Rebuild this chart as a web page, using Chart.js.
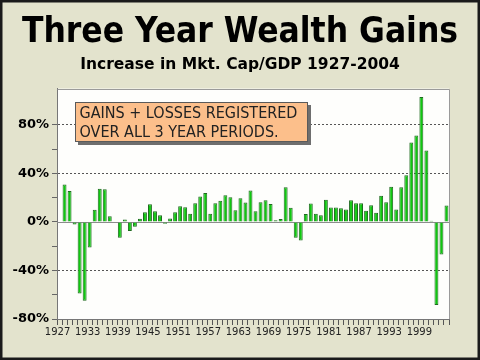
<!DOCTYPE html>
<html><head><meta charset="utf-8">
<style>html,body{margin:0;padding:0;background:#e3e3cd;}canvas{display:block;}</style>
<script src="https://cdn.jsdelivr.net/npm/chart.js@4.4.1/dist/chart.umd.min.js"></script>
</head><body><canvas id="c" width="480" height="360"></canvas>
<script>
const titleText = 'Three Year Wealth Gains';
const subtitleText = 'Increase in Mkt. Cap/GDP 1927-2004';
const noteLines = ['GAINS + LOSSES REGISTERED', 'OVER ALL 3 YEAR PERIODS.'];

const years = ['1927','1928','1929','1930','1931','1932','1933','1934','1935','1936',
 '1937','1938','1939','1940','1941','1942','1943','1944','1945','1946',
 '1947','1948','1949','1950','1951','1952','1953','1954','1955','1956',
 '1957','1958','1959','1960','1961','1962','1963','1964','1965','1966',
 '1967','1968','1969','1970','1971','1972','1973','1974','1975','1976',
 '1977','1978','1979','1980','1981','1982','1983','1984','1985','1986',
 '1987','1988','1989','1990','1991','1992','1993','1994','1995','1996',
 '1997','1998','1999','2000','2001','2002','2003','2004'];

const gains = [null, 31, 25.5, -2, -59, -65, -21, 10, 27.5, 27,
 4.8, 0.5, -13, 2, -7.4, -4, 2.6, 8, 14.6, 8.8,
 5.5, -1.5, 2.8, 8, 12.9, 12.2, 6.8, 15.4, 21, 24,
 6.7, 15.4, 17.6, 22, 20.3, 9.6, 19.5, 16, 26, 8.8,
 16.2, 17.9, 14.8, 1.4, 2.5, 28.6, 11.8, -13, -15.3, 6.5,
 15.3, 6.8, 5.5, 18.4, 12, 12, 11.3, 10.4, 17.9, 15.4,
 15.4, 9.3, 13.9, 7.7, 21.7, 16.2, 29.1, 10.3, 28.6, 38.5,
 65.5, 71.4, 103, 59, 1, -68.5, -26.9, 13.7];

const xTickLabels = ['1927','1933','1939','1945','1951','1957','1963','1969','1975','1981','1987','1993','1999'];
const yMajorTicks = [-80, -40, 0, 40, 80];
const yGridTicks = [-40, 40, 80];

const decorPlugin = {
  id: 'decor',
  beforeDraw(chart) {
    const {ctx, chartArea: a} = chart;
    ctx.save();
    ctx.fillStyle = '#e3e3cd';
    ctx.fillRect(0, 0, chart.width, chart.height);
    ctx.fillStyle = '#fefefc';
    ctx.fillRect(a.left, a.top, a.right - a.left, a.bottom - a.top);
    ctx.restore();
  },
  beforeDatasetsDraw(chart) {
    const {ctx, chartArea: a, scales: {y}} = chart;
    const y0 = Math.round(y.getPixelForValue(0)) + 0.5;
    ctx.save();
    ctx.strokeStyle = '#8c8c8c';
    ctx.lineWidth = 1;
    ctx.beginPath(); ctx.moveTo(a.left, y0); ctx.lineTo(a.right, y0); ctx.stroke();
    ctx.restore();
  },
  afterDraw(chart) {
    const {ctx, chartArea: a} = chart;
    ctx.save();
    ctx.strokeStyle = '#9a9a9a';
    ctx.lineWidth = 1;
    ctx.beginPath();
    ctx.moveTo(Math.round(a.left) + 0.5, Math.round(a.top) + 0.5);
    ctx.lineTo(Math.round(a.right) + 0.5, Math.round(a.top) + 0.5);
    ctx.lineTo(Math.round(a.right) + 0.5, Math.round(a.bottom));
    ctx.stroke();
    // note box
    const bx = 75, by = 102, bw = 233, bh = 40;
    ctx.fillStyle = '#6e6e6e';
    ctx.fillRect(bx + 3, by + 3, bw, bh);
    ctx.fillStyle = '#fcbf8b';
    ctx.fillRect(bx, by, bw, bh);
    ctx.strokeStyle = '#5a5a5a';
    ctx.strokeRect(bx + 0.5, by + 0.5, bw - 1, bh - 1);
    ctx.fillStyle = '#222';
    ctx.font = "16px 'DejaVu Sans Condensed', 'DejaVu Sans', sans-serif";
    ctx.textBaseline = 'middle';
    ctx.textAlign = 'left';
    noteLines.forEach((t, i) => ctx.fillText(t, bx + 4.5, by + 12 + i * 19));
    // outer frame
    ctx.strokeStyle = '#1a1a1a';
    ctx.lineWidth = 2.5;
    ctx.strokeRect(1.25, 1.25, chart.width - 2.5, chart.height - 2.5);
    ctx.restore();
  }
};

new Chart(document.getElementById('c'), {
  type: 'bar',
  data: {
    labels: years,
    datasets: [{
      data: gains,
      backgroundColor: '#0fc80f',
      borderColor: '#1f6a1f',
      borderWidth: 1,
      barPercentage: 0.78,
      categoryPercentage: 1
    }]
  },
  options: {
    responsive: false,
    animation: false,
    devicePixelRatio: 1,
    layout: {padding: {left: 0, right: 0, top: 0, bottom: 0}},
    plugins: {
      legend: {display: false},
      tooltip: {enabled: false},
      title: {
        display: true, text: titleText, color: '#000',
        font: {family: "'DejaVu Sans Condensed', 'Liberation Sans', sans-serif", size: 35, weight: 'bold'},
        padding: {top: 12, bottom: 2}
      },
      subtitle: {
        display: true, text: subtitleText, color: '#000',
        font: {family: "'DejaVu Sans', sans-serif", size: 15.5, weight: 'bold'},
        padding: {top: 0, bottom: 14}
      }
    },
    scales: {
      x: {
        type: 'category',
        offset: true,
        grid: {drawOnChartArea: false, drawTicks: true, tickLength: 6, color: '#555', offset: true},
        border: {display: true, color: '#777'},
        ticks: {
          autoSkip: false, maxRotation: 0, minRotation: 0, padding: 1, labelOffset: -2,
          color: '#222', font: {family: "'DejaVu Sans', sans-serif", size: 10},
          callback(v) { const l = this.getLabelForValue(v); return xTickLabels.includes(l) ? l : ''; }
        },
        afterFit(s) { s.height = 41; }
      },
      y: {
        min: -80, max: 110,
        afterBuildTicks(s) { s.ticks = s.ticks.filter(t => t.value % 20 === 0); },
        ticks: {
          stepSize: 20, padding: 3, color: '#000',
          font: {family: "'DejaVu Sans', sans-serif", size: 13, weight: 'bold'},
          callback(v) { return yMajorTicks.includes(v) ? v + '%' : ''; }
        },
        grid: {
          color(c) { return c.tick && yGridTicks.includes(c.tick.value) ? '#555' : 'rgba(0,0,0,0)'; },
          tickColor: '#666', tickLength: 5, lineWidth: 1
        },
        border: {display: true, color: '#777', dash: [2, 2]},
        afterFit(s) { s.width = 57; }
      },
      yRight: {
        type: 'linear', position: 'right', display: true,
        grid: {display: false}, border: {display: false}, ticks: {display: false},
        afterFit(s) { s.width = 31; }
      }
    }
  },
  plugins: [decorPlugin]
});
</script>
</body></html>
